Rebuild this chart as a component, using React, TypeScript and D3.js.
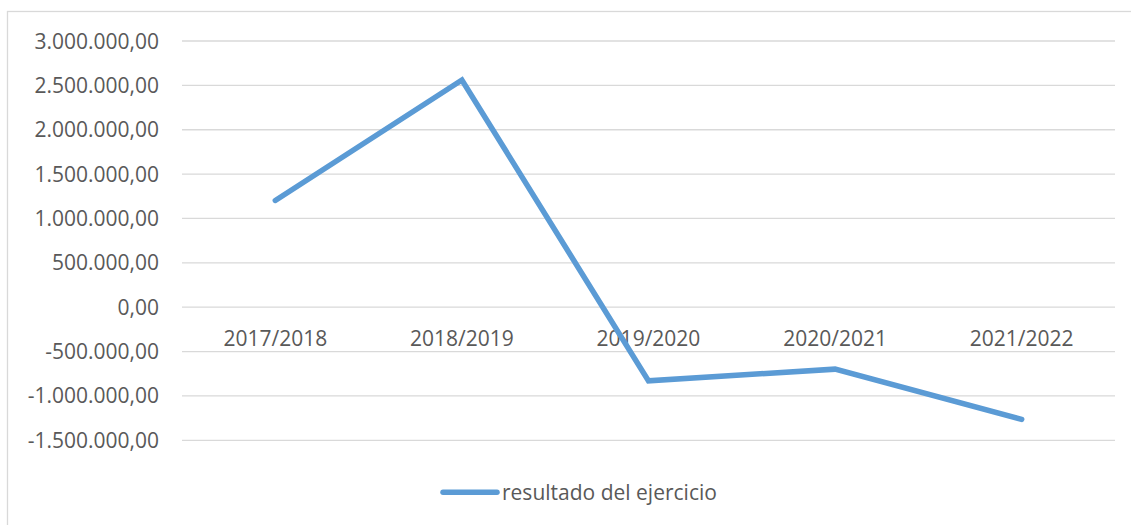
import React from "react";
import * as d3 from "d3";

const categories = ["2017/2018", "2018/2019", "2019/2020", "2020/2021", "2021/2022"];
const values = [1203000, 2560000, -830000, -698000, -1264000];
const yTicks = [3000000, 2500000, 2000000, 1500000, 1000000, 500000, 0, -500000, -1000000, -1500000];
const seriesName = "resultado del ejercicio";

const W = 1131;
const H = 525;
const font = "'Open Sans', 'Noto Sans', sans-serif";
const textColor = "#595959";
const gridColor = "#D9D9D9";
const lineColor = "#5B9BD5";

const fmt = (v: number) => {
  const s = d3.format(",.2f")(Math.abs(v));
  const t = s.replace(/,/g, "#").replace(".", ",").replace(/#/g, ".");
  return (v < 0 ? "-" : "") + t;
};

export default function App() {
  const x = d3.scaleBand<string>().domain(categories).range([182, 1115]);
  const y = d3.scaleLinear().domain([-1500000, 3000000]).range([440.3, 41]);
  const line = d3
    .line<number>()
    .x((_, i) => (x(categories[i]) as number) + x.bandwidth() / 2)
    .y((d) => y(d));

  return (
    <svg
      width={W}
      height={H}
      style={{ position: "absolute", left: 0, top: 0, background: "#fff" }}
      fontFamily={font}
    >
      <rect x={0} y={0} width={W} height={H} fill="#fff" />
      <rect x={7.5} y={11.5} width={1140} height={530} fill="none" stroke={gridColor} strokeWidth={1.3} />
      {yTicks.map((t) => (
        <g key={t}>
          <line x1={182} x2={1115} y1={y(t)} y2={y(t)} stroke={gridColor} strokeWidth={1.3} />
          <text
            x={159}
            y={y(t)}
            dy="0.36em"
            textAnchor="end"
            fontSize={21}
            fill={textColor}
          >
            {fmt(t)}
          </text>
        </g>
      ))}
      {categories.map((c) => (
        <text
          key={c}
          x={(x(c) as number) + x.bandwidth() / 2}
          y={345.5}
          textAnchor="middle"
          fontSize={21}
          fill={textColor}
        >
          {c}
        </text>
      ))}
      <path
        d={line(values) || ""}
        fill="none"
        stroke={lineColor}
        strokeWidth={5.5}
        strokeLinejoin="miter"
        strokeLinecap="round"
      />
      <line x1={443} x2={497} y1={492.3} y2={492.3} stroke={lineColor} strokeWidth={5.5} strokeLinecap="round" />
      <text x={502} y={492.3} dy="0.36em" fontSize={21} fill={textColor}>
        {seriesName}
      </text>
    </svg>
  );
}
